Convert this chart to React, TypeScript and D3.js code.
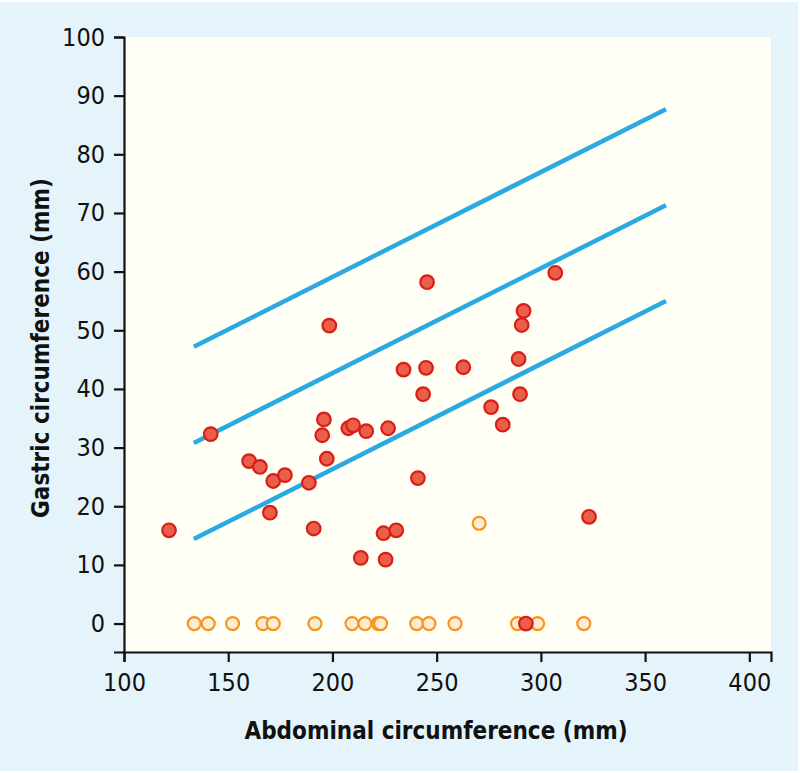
import * as d3 from "d3";
import { useRef, useEffect } from "react";

// abdominal circumference (mm), gastric circumference (mm)
const redAbdominal = [121.6, 141.6, 160.0, 165.2, 170.0, 171.6, 177.2, 188.7, 191.0, 195.1, 195.9, 197.3, 198.5, 207.6, 209.9, 213.6, 216.2, 224.5, 225.5, 226.7, 230.6, 234.1, 241.0, 243.5, 244.9, 245.4, 262.8, 276.1, 281.7, 289.3, 290.0, 290.8, 291.7, 292.8, 306.9, 323.1];
const redGastric = [15.9, 32.3, 27.7, 26.7, 18.9, 24.3, 25.3, 24.0, 16.2, 32.1, 34.8, 28.1, 50.8, 33.3, 33.8, 11.2, 32.8, 15.4, 10.9, 33.3, 15.9, 43.3, 24.8, 39.1, 43.6, 58.2, 43.7, 36.9, 33.9, 45.1, 39.1, 50.9, 53.3, 0, 59.8, 18.2];

const orangeAbdominal = [133.7, 140.4, 152.1, 166.7, 171.6, 191.6, 209.4, 215.6, 222.0, 223.1, 240.4, 246.3, 258.8, 270.4, 288.8, 298.4, 320.6];
const orangeGastric = [0, 0, 0, 0, 0, 0, 0, 0, 0, 0, 0, 0, 0, 17.1, 0, 0, 0];

// three parallel reference lines: start/end abdominal, start/end gastric
const lineX = [133.5, 360];
const lineUpper = [47.2, 87.7];
const lineMiddle = [30.8, 71.3];
const lineLower = [14.4, 55.0];

const xTicks = [100, 150, 200, 250, 300, 350, 400];
const yTicks = [0, 10, 20, 30, 40, 50, 60, 70, 80, 90, 100];

const font = "'DejaVu Sans Condensed', 'Open Sans', sans-serif";

export default function App({
  width = 800,
  height = 773,
  marginTop = 37,
  marginRight = 29,
  marginBottom = 121,
  marginLeft = 124,
}) {
  const gx = useRef(null);
  const gy = useRef(null);
  const x = d3.scaleLinear([100, 410.4], [marginLeft, width - marginRight]);
  const y = d3.scaleLinear([-4.85, 100], [height - marginBottom, marginTop]);

  const line = d3
    .line<number>()
    .x((d, i) => x(lineX[i]))
    .y((d) => y(d));

  useEffect(() => {
    document.body.style.margin = "0";
    const ax = d3.select(gx.current);
    ax.call(d3.axisBottom(x).tickValues(xTicks).tickSizeOuter(0).tickSize(10).tickPadding(11));
    const ay = d3.select(gy.current);
    ay.call(d3.axisLeft(y).tickValues(yTicks).tickSizeOuter(0).tickSize(10).tickPadding(9));
    for (const g of [ax, ay]) {
      g.selectAll("path, line").attr("stroke", "#111").attr("stroke-width", 2.2);
      g.selectAll("text")
        .attr("fill", "#111")
        .style("font-family", font)
        .style("font-size", "25px");
    }
  }, []);

  return (
    <svg width={width} height={height} style={{ display: "block" }}>
      <rect x={0} y={2} width={798} height={769} fill="#e4f4fa" />
      <rect
        x={marginLeft}
        y={marginTop}
        width={width - marginRight - marginLeft}
        height={height - marginBottom - marginTop}
        fill="#fffff5"
      />
      {[lineUpper, lineMiddle, lineLower].map((l, i) => (
        <path key={i} d={line(l) ?? ""} fill="none" stroke="#29aae2" strokeWidth={4.5} />
      ))}
      {orangeAbdominal.map((a, i) => (
        <circle
          key={"o" + i}
          cx={x(a)}
          cy={y(orangeGastric[i])}
          r={6.5}
          fill="#fcecd6"
          stroke="#f7941d"
          strokeWidth={2.2}
        />
      ))}
      {redAbdominal.map((a, i) => (
        <circle
          key={"r" + i}
          cx={x(a)}
          cy={y(redGastric[i])}
          r={6.8}
          fill="#ea5f4a"
          stroke="#d81e16"
          strokeWidth={2.2}
        />
      ))}
      <g ref={gx} transform={`translate(0,${height - marginBottom})`} />
      <g ref={gy} transform={`translate(${marginLeft},0)`} />
      <text
        x={436}
        y={739}
        textAnchor="middle"
        fontFamily={font}
        fontWeight="bold"
        fontSize={24}
        fill="#111"
      >
        Abdominal circumference (mm)
      </text>
      <text
        transform="translate(49,348) rotate(-90)"
        textAnchor="middle"
        fontFamily={font}
        fontWeight="bold"
        fontSize={24}
        fill="#111"
      >
        Gastric circumference (mm)
      </text>
    </svg>
  );
}
